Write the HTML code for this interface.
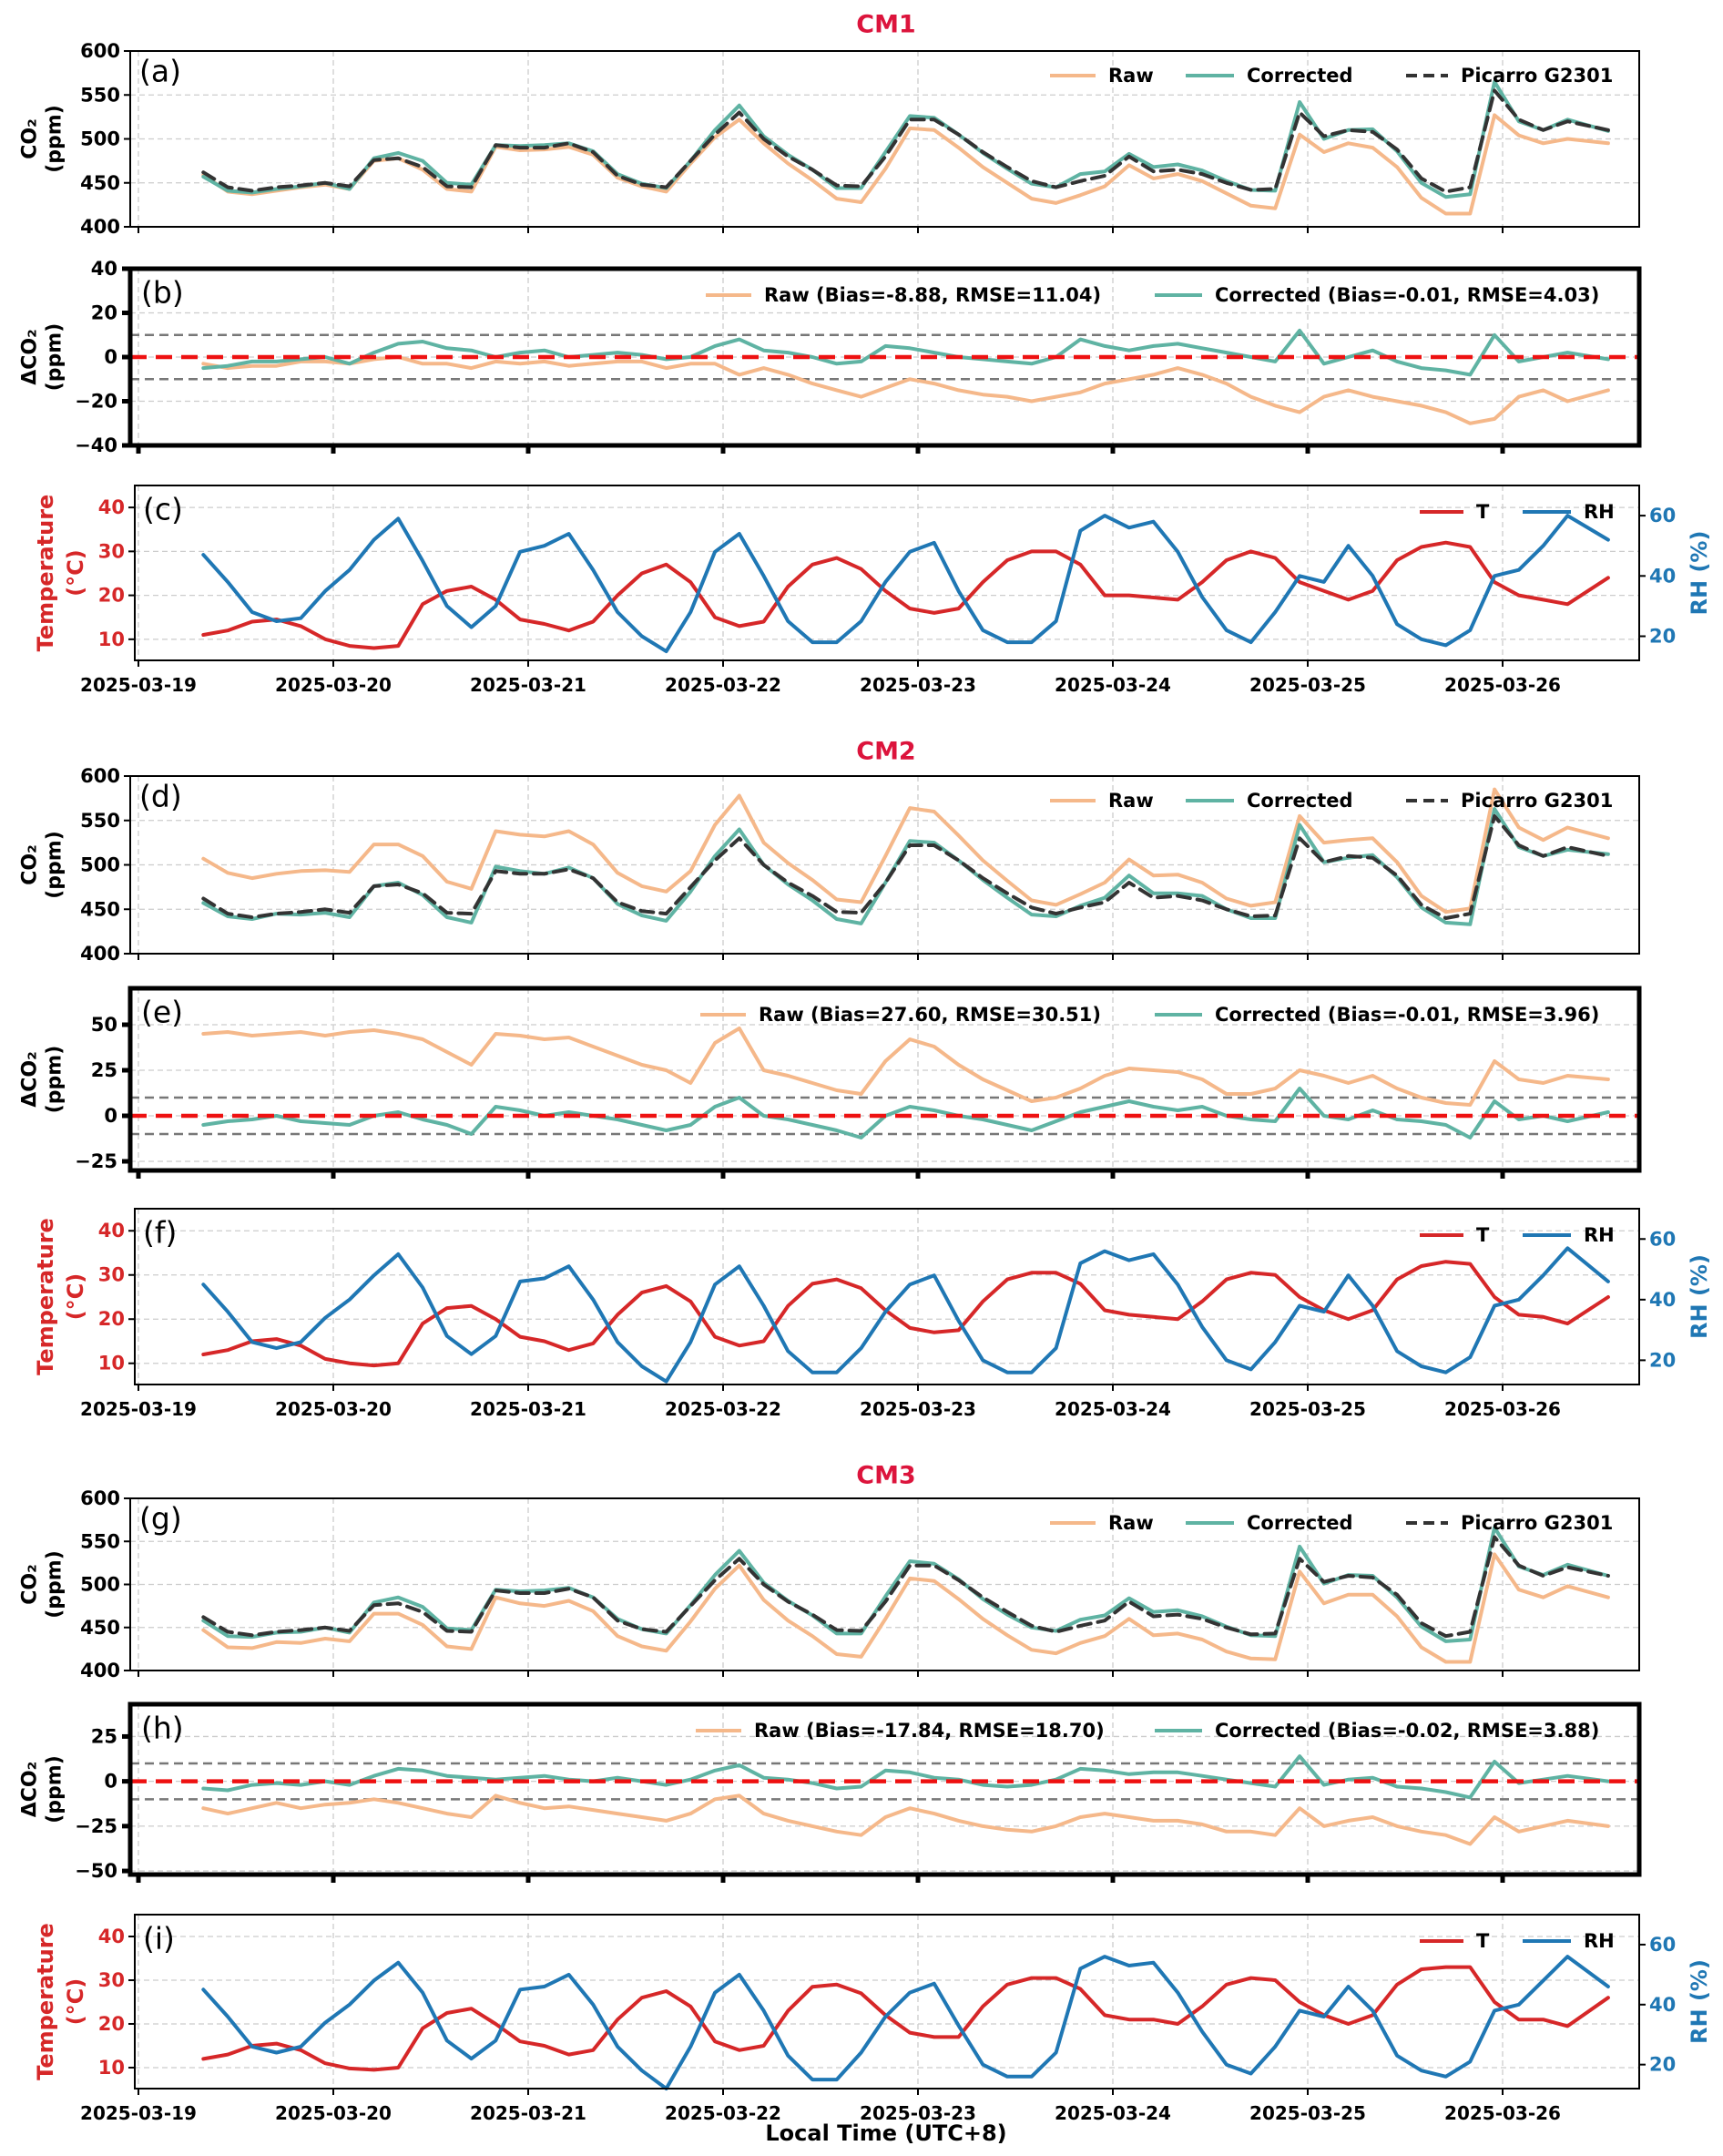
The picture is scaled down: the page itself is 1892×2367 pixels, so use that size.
<!DOCTYPE html>
<html><head><meta charset="utf-8"><style>
html,body{margin:0;padding:0;background:#fff;}
svg{display:block;font-family:"DejaVu Sans","Liberation Sans",sans-serif;}
</style></head><body>
<svg id="chart" width="1892" height="2367" viewBox="0 0 1892 2367" xmlns="http://www.w3.org/2000/svg">
<rect width="1892" height="2367" fill="#fff"/>
</svg>
<script>
// time grid: hours since 2025-03-19 00:00 (local)
const hours = [8,11,14,17,20,23,26,29,32,35,38,41,44,47,50,53,56,59,62,65,68,71,74,77,80,83,86,89,92,95,98,101,104,107,110,113,116,119,122,125,128,131,134,137,140,143,146,149,152,155,158,161,164,167,170,173,176,181];
const dayLabels = ["2025-03-19","2025-03-20","2025-03-21","2025-03-22","2025-03-23","2025-03-24","2025-03-25","2025-03-26"];
const co2Ticks = [400,450,500,550,600];
const dTicksB = [-40,-20,0,20,40];
const dTicksE = [-25,0,25,50];
const dTicksH = [-50,-25,0,25];
const tTicks = [10,20,30,40];
const rhTicks = [20,40,60];

const picarro = [462,445,441,445,447,450,446,476,478,468,446,445,493,490,490,495,485,458,448,445,475,505,530,500,480,465,447,446,480,522,522,505,485,468,452,445,452,458,480,463,465,460,450,442,443,530,503,510,508,488,455,440,445,555,522,510,520,510];

const dRaw1 = [-3,-5,-4,-4,-2,-2,-3,-1,0,-3,-3,-5,-2,-3,-2,-4,-3,-2,-2,-5,-3,-3,-8,-5,-8,-12,-15,-18,-14,-10,-12,-15,-17,-18,-20,-18,-16,-12,-10,-8,-5,-8,-12,-18,-22,-25,-18,-15,-18,-20,-22,-25,-30,-28,-18,-15,-20,-15];
const dCorr1 = [-5,-4,-2,-2,-1,0,-3,2,6,7,4,3,0,2,3,0,1,2,1,-1,0,5,8,3,2,0,-3,-2,5,4,2,0,-1,-2,-3,0,8,5,3,5,6,4,2,0,-2,12,-3,0,3,-2,-5,-6,-8,10,-2,0,2,-1];
const dRaw2 = [45,46,44,45,46,44,46,47,45,42,35,28,45,44,42,43,38,33,28,25,18,40,48,25,22,18,14,12,30,42,38,28,20,14,8,10,15,22,26,25,24,20,12,12,15,25,22,18,22,15,10,7,6,30,20,18,22,20];
const dCorr2 = [-5,-3,-2,0,-3,-4,-5,0,2,-2,-5,-10,5,3,0,2,0,-2,-5,-8,-5,5,10,0,-2,-5,-8,-12,0,5,3,0,-2,-5,-8,-3,2,5,8,5,3,5,0,-2,-3,15,0,-2,3,-2,-3,-5,-12,8,-2,0,-3,2];
const dRaw3 = [-15,-18,-15,-12,-15,-13,-12,-10,-12,-15,-18,-20,-8,-12,-15,-14,-16,-18,-20,-22,-18,-10,-8,-18,-22,-25,-28,-30,-20,-15,-18,-22,-25,-27,-28,-25,-20,-18,-20,-22,-22,-24,-28,-28,-30,-15,-25,-22,-20,-25,-28,-30,-35,-20,-28,-25,-22,-25];
const dCorr3 = [-4,-5,-2,-1,-2,0,-2,3,7,6,3,2,1,2,3,1,0,2,0,-2,1,6,9,2,1,-1,-4,-3,6,5,2,1,-2,-3,-2,1,7,6,4,5,5,3,1,-1,-3,14,-2,1,2,-3,-4,-6,-9,11,-1,1,3,0];

const T1 = [11,12,14,14.5,13,10,8.5,8,8.5,18,21,22,19,14.5,13.5,12,14,20,25,27,23,15,13,14,22,27,28.5,26,21,17,16,17,23,28,30,30,27,20,20,19.5,19,23,28,30,28.5,23,21,19,21,28,31,32,31,23,20,19,18,24];
const RH1 = [47,38,28,25,26,35,42,52,59,45,30,23,30,48,50,54,42,28,20,15,28,48,54,40,25,18,18,25,38,48,51,35,22,18,18,25,55,60,56,58,48,33,22,18,28,40,38,50,40,24,19,17,22,40,42,50,60,52];
const T2 = [12,13,15,15.5,14,11,10,9.5,10,19,22.5,23,20,16,15,13,14.5,21,26,27.5,24,16,14,15,23,28,29,27,22,18,17,17.5,24,29,30.5,30.5,28,22,21,20.5,20,24,29,30.5,30,25,22,20,22,29,32,33,32.5,25,21,20.5,19,25];
const RH2 = [45,36,26,24,26,34,40,48,55,44,28,22,28,46,47,51,40,26,18,13,26,45,51,38,23,16,16,24,36,45,48,33,20,16,16,24,52,56,53,55,45,31,20,17,26,38,36,48,38,23,18,16,21,38,40,48,57,46];
const T3 = [12,13,15,15.5,14,11,9.8,9.5,10,19,22.5,23.5,20,16,15,13,14,21,26,27.5,24,16,14,15,23,28.5,29,27,22,18,17,17,24,29,30.5,30.5,28,22,21,21,20,24,29,30.5,30,25,22,20,22,29,32.5,33,33,25,21,21,19.5,26];
const RH3 = [45,36,26,24,26,34,40,48,54,44,28,22,28,45,46,50,40,26,18,12,26,44,50,38,23,15,15,24,36,44,47,33,20,16,16,24,52,56,53,54,44,31,20,17,26,38,36,46,38,23,18,16,21,38,40,48,56,46];

const NS = "http://www.w3.org/2000/svg";
const svg = document.getElementById("chart");
const C_RAW = "#f5b88a", C_COR = "#5fb3a3", C_T = "#d62728", C_RH = "#1f77b4";

function mk(tag, attrs, parent) {
  const el = document.createElementNS(NS, tag);
  for (const k in attrs) el.setAttribute(k, attrs[k]);
  (parent || svg).appendChild(el);
  return el;
}
function txt(s, x, y, size, opts, parent) {
  const o = opts || {};
  const t = mk("text", {x: x, y: y, "font-size": size, "font-weight": o.weight || "bold", fill: o.fill || "#000", "text-anchor": o.anchor || "middle", "dominant-baseline": "central"}, parent);
  if (o.rotate) t.setAttribute("transform", "rotate(-90 " + x + " " + y + ")");
  t.textContent = s;
  return t;
}
function xScale(L, R) { const x0 = 152, d = 214; return h => x0 + h / 24 * d; }
function yScale(top, bot, lo, hi) { return v => bot - (v - lo) / (hi - lo) * (bot - top); }

function line(g, xs, ys, color, w, dash, name) {
  let d = "";
  for (let i = 0; i < hours.length; i++) d += (i ? "L" : "M") + xs(hours[i]).toFixed(1) + " " + ys[i].toFixed(1);
  const p = mk("path", {d: d, fill: "none", stroke: color, "stroke-width": w, "stroke-linejoin": "round", "stroke-linecap": "round"}, g);
  if (dash) p.setAttribute("stroke-dasharray", dash);
  
  
  return p;
}

function frame(g, L, R, top, bot, thick, name) {
  const f = mk("rect", {x: L, y: top, width: R - L, height: bot - top, fill: "none", stroke: "#000", "stroke-width": thick}, g);
  
  
}
function xGridTicks(g, L, R, top, bot, labels, thick) {
  const xs = xScale(L, R);
  for (let k = 0; k < dayLabels.length; k++) {
    const x = xs(k * 24);
    mk("line", {x1: x, x2: x, y1: top, y2: bot, stroke: "#ccc", "stroke-width": 1.3, "stroke-dasharray": "6 4"}, g);
    mk("line", {x1: x, x2: x, y1: bot, y2: bot + (thick ? 9 : 7), stroke: "#000", "stroke-width": thick ? 5 : 2}, g);
    if (labels) {
      const t = txt(dayLabels[k], x, bot + 27, 20, {}, g);
      
      
    }
  }
}
function yAxis(g, L, R, top, bot, lo, hi, ticks, thick, side, color) {
  const ys = yScale(top, bot, lo, hi);
  ticks.forEach(v => {
    const y = ys(v);
    if (side === "left") mk("line", {x1: L, x2: R, y1: y, y2: y, stroke: "#ccc", "stroke-width": 1.3, "stroke-dasharray": "6 4"}, g);
    const xe = side === "left" ? L : R;
    const dir = side === "left" ? -1 : 1;
    mk("line", {x1: xe, x2: xe + dir * (thick ? 9 : 7), y1: y, y2: y, stroke: "#000", "stroke-width": thick ? 5 : 2}, g);
    const lab = String(v).replace("-", "\u2212");
    const t = txt(lab, xe + dir * (thick ? 14 : 11), y, 21, {anchor: side === "left" ? "end" : "start", fill: color || "#000"}, g);
    
    
  });
  return ys;
}
function legendItem(g, x1, x2, y, color, dash, label, name) {
  const grp = mk("g", {}, g);
  
  
  const l = mk("line", {x1: x1, x2: x2, y1: y, y2: y, stroke: color, "stroke-width": 4}, grp);
  if (dash) l.setAttribute("stroke-dasharray", dash);
  txt(label, x2 + 14, y, 21, {anchor: "start"}, grp);
}
function panelLetter(g, s, x, y) {
  const t = txt(s, x, y, 33, {anchor: "start", weight: "normal"}, g);
  
  
}

function co2Panel(letter, top, bot, dRaw, dCorr) {
  const L = 143, R = 1800;
  const g = mk("g", {});
  
  
  xGridTicks(g, L, R, top, bot, false, false);
  const ys = yAxis(g, L, R, top, bot, 400, 600, co2Ticks, false, "left");
  const xs = xScale(L, R);
  line(g, xs, picarro.map((v, i) => ys(v + dRaw[i])), C_RAW, 4, null, "raw-co2-line");
  line(g, xs, picarro.map((v, i) => ys(v + dCorr[i])), C_COR, 4, null, "corrected-co2-line");
  line(g, xs, picarro.map(v => ys(v)), "#333", 4, "14 8", "picarro-co2-line");
  frame(g, L, R, top, bot, 2, "plot-frame");
  const mid = (top + bot) / 2;
  const yl = txt("CO\u2082", 33, mid, 22, {rotate: true}, g);
  
  
  txt("(ppm)", 60, mid, 22, {rotate: true}, g);
  panelLetter(g, "(" + letter + ")", 153, top + 22);
  const ly = top + 27;
  legendItem(g, 1153, 1203, ly, C_RAW, null, "Raw", "legend-raw");
  legendItem(g, 1302, 1355, ly, C_COR, null, "Corrected", "legend-corrected");
  legendItem(g, 1544, 1590, ly, "#333", "12 7", "Picarro G2301", "legend-picarro");
}

function deltaPanel(letter, top, bot, lo, hi, ticks, dRaw, dCorr, rawLab, corLab, rawX) {
  const L = 143, R = 1800;
  const g = mk("g", {});
  
  
  xGridTicks(g, L, R, top, bot, false, true);
  const ys = yAxis(g, L, R, top, bot, lo, hi, ticks, true, "left");
  const xs = xScale(L, R);
  [10, -10].forEach(v => mk("line", {x1: L, x2: R, y1: ys(v), y2: ys(v), stroke: "#777", "stroke-width": 2.5, "stroke-dasharray": "10 6"}, g));
  line(g, xs, dRaw.map(v => ys(v)), C_RAW, 4, null, "raw-delta-line");
  line(g, xs, dCorr.map(v => ys(v)), C_COR, 4, null, "corrected-delta-line");
  const z = mk("line", {x1: L, x2: R, y1: ys(0), y2: ys(0), stroke: "#ee1111", "stroke-width": 4.5, "stroke-dasharray": "18 10"}, g);
  
  
  frame(g, L, R, top, bot, 5, "plot-frame");
  const mid = (top + bot) / 2;
  const yl = txt("\u0394CO\u2082", 33, mid, 22, {rotate: true}, g);
  
  
  txt("(ppm)", 60, mid, 22, {rotate: true}, g);
  panelLetter(g, "(" + letter + ")", 155, top + 26);
  const ly = top + 29;
  legendItem(g, rawX, rawX + 50, ly, C_RAW, null, rawLab, "legend-raw");
  legendItem(g, 1268, 1320, ly, C_COR, null, corLab, "legend-corrected");
}

function metPanel(letter, top, bot, T, RH, labels) {
  const L = 148, R = 1800;
  const g = mk("g", {});
  
  
  xGridTicks(g, L, R, top, bot, labels, false);
  const yt = yAxis(g, L, R, top, bot, 5.2, 45, tTicks, false, "left", C_T);
  const yr = yAxis(g, L, R, top, bot, 12, 70, rhTicks, false, "right", C_RH);
  const xs = xScale(L, R);
  line(g, xs, T.map(v => yt(v)), C_T, 4, null, "temperature-line");
  line(g, xs, RH.map(v => yr(v)), C_RH, 4, null, "rh-line");
  frame(g, L, R, top, bot, 2, "plot-frame");
  const mid = (top + bot) / 2;
  const yl = txt("Temperature", 50, mid, 24, {rotate: true, fill: C_T}, g);
  
  
  txt("(\u00b0C)", 83, mid, 24, {rotate: true, fill: C_T}, g);
  const rl = txt("RH (%)", 1866, mid, 24, {rotate: true, fill: C_RH}, g);
  
  
  panelLetter(g, "(" + letter + ")", 157, top + 26);
  const ly = top + 29;
  legendItem(g, 1559, 1607, ly, C_T, null, "T", "legend-t");
  legendItem(g, 1672, 1725, ly, C_RH, null, "RH", "legend-rh");
}

function title(s, y) {
  const t = txt(s, 973, y, 27, {fill: "#dc143c"});
  
  
}

title("CM1", 27);
co2Panel("a", 56, 249, dRaw1, dCorr1);
deltaPanel("b", 295, 489, -40, 40, dTicksB, dRaw1, dCorr1, "Raw (Bias=-8.88, RMSE=11.04)", "Corrected (Bias=-0.01, RMSE=4.03)", 775);
metPanel("c", 533, 725, T1, RH1, true);

title("CM2", 825);
co2Panel("d", 852, 1047, dRaw2, dCorr2);
deltaPanel("e", 1085, 1285, -30, 70, dTicksE, dRaw2, dCorr2, "Raw (Bias=27.60, RMSE=30.51)", "Corrected (Bias=-0.01, RMSE=3.96)", 769);
metPanel("f", 1327, 1520, T2, RH2, true);

title("CM3", 1620);
co2Panel("g", 1645, 1834, dRaw3, dCorr3);
deltaPanel("h", 1871, 2058, -52, 43, dTicksH, dRaw3, dCorr3, "Raw (Bias=-17.84, RMSE=18.70)", "Corrected (Bias=-0.02, RMSE=3.88)", 764);
metPanel("i", 2102, 2293, T3, RH3, true);

const xt = txt("Local Time (UTC+8)", 973, 2342, 24, {});


</script>
</body></html>
